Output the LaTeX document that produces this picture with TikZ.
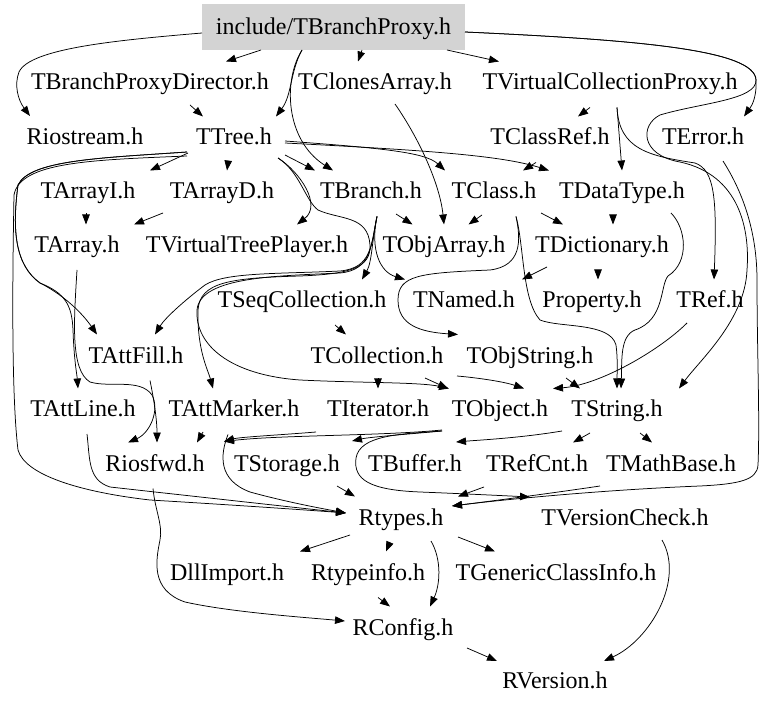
\documentclass[tikz,border=0pt]{standalone}
\usepackage{fontspec}
\setmainfont{Liberation Serif}
\usetikzlibrary{arrows.meta}
\definecolor{rootgray}{RGB}{211,211,211}
\begin{document}
\begin{tikzpicture}[x=1pt,y=-1pt,
  every node/.style={font=\fontsize{24}{28}\selectfont, inner sep=0pt, text height=16pt, text depth=5pt},
  hdr/.style={fill=rootgray, minimum width=263pt, minimum height=46pt, text depth=0pt},
  edg/.style={draw=black, line width=0.75pt, -{Triangle[length=10pt,width=7.5pt]}}]
\useasboundingbox (0,0) rectangle (779,708);
\node[hdr] (root) at (333.5,27) {include/TBranchProxy.h};
\node (bpd) at (150,84.5) {TBranchProxyDirector.h};
\node (clones) at (375,84.5) {TClonesArray.h};
\node (vcp) at (610,84.5) {TVirtualCollectionProxy.h};
\node (rio) at (85,139.5) {Riostream.h};
\node (tree) at (234,139.5) {TTree.h};
\node (cref) at (550,139.5) {TClassRef.h};
\node (err) at (703,139.5) {TError.h};
\node (arri) at (88,193.5) {TArrayI.h};
\node (arrd) at (222,193.5) {TArrayD.h};
\node (branch) at (371,193.5) {TBranch.h};
\node (class) at (494,193.5) {TClass.h};
\node (dtype) at (622,193.5) {TDataType.h};
\node (arr) at (77,247.5) {TArray.h};
\node (vtp) at (247,247.5) {TVirtualTreePlayer.h};
\node (objarr) at (444,247.5) {TObjArray.h};
\node (dict) at (602,247.5) {TDictionary.h};
\node (seq) at (302,302.5) {TSeqCollection.h};
\node (named) at (464,302.5) {TNamed.h};
\node (prop) at (592,302.5) {Property.h};
\node (tref) at (710,302.5) {TRef.h};
\node (attfill) at (136,357.5) {TAttFill.h};
\node (coll) at (377,357.5) {TCollection.h};
\node (objstr) at (530,357.5) {TObjString.h};
\node (attline) at (83,411.5) {TAttLine.h};
\node (attmarker) at (234,411.5) {TAttMarker.h};
\node (iter) at (378,411.5) {TIterator.h};
\node (object) at (500,411.5) {TObject.h};
\node (string) at (617,411.5) {TString.h};
\node (riosfwd) at (155,465.5) {Riosfwd.h};
\node (storage) at (287,465.5) {TStorage.h};
\node (buffer) at (415,465.5) {TBuffer.h};
\node (refcnt) at (537,465.5) {TRefCnt.h};
\node (mathbase) at (671,465.5) {TMathBase.h};
\node (rtypes) at (401,519.5) {Rtypes.h};
\node (vcheck) at (625,519.5) {TVersionCheck.h};
\node (dll) at (227,574.5) {DllImport.h};
\node (rtinfo) at (368,574.5) {Rtypeinfo.h};
\node (gci) at (556,574.5) {TGenericClassInfo.h};
\node (rconfig) at (403,629.5) {RConfig.h};
\node (rversion) at (555,683) {RVersion.h};
% root
\draw[edg] ([shift={(-131.5,6)}]root.center) .. controls (120,40) and (30,48) .. (19,72) .. controls (14,85) and (18,100) .. ([shift={(-55,-23.5)}]rio.center);
\draw[edg] ([shift={(-72.5,23)}]root.center) -- ([shift={(76,-23)}]bpd.center);
\draw[edg] ([shift={(-31.5,23)}]root.center) .. controls (290,72) and (292,95) .. ([shift={(42,-23)}]tree.center);
\draw[edg] ([shift={(-31.5,23)}]root.center) .. controls (283,80) and (285,140) .. ([shift={(-38,-23)}]branch.center);
\draw[edg] ([shift={(28.5,23)}]root.center) -- ([shift={(-17,-23)}]clones.center);
\draw[edg] ([shift={(113.5,23)}]root.center) -- ([shift={(-111,-23)}]vcp.center);
\draw[edg] ([shift={(131.5,5)}]root.center) .. controls (640,40) and (755,50) .. (756,80) .. controls (757,100) and (750,108) .. ([shift={(41,-23)}]err.center);
\draw[edg] ([shift={(131.5,5)}]root.center) .. controls (640,40) and (755,50) .. (756,80) .. controls (757,100) and (700,103) .. (660,115) .. controls (640,125) and (640,155) .. (680,162) .. controls (740,175) and (750,230) .. (747,270) .. controls (745,320) and (700,360) .. ([shift={(62,-23)}]string.center);
% row 1/2
\draw[edg] ([shift={(40,20.5)}]bpd.center) -- ([shift={(-31,-23)}]tree.center);
\draw[edg] ([shift={(-20,23)}]vcp.center) -- ([shift={(28,-23)}]cref.center);
\draw[edg] ([shift={(7,23)}]vcp.center) -- ([shift={(0,-23)}]dtype.center);
\draw[edg] ([shift={(7,23)}]vcp.center) .. controls (619,150) and (650,156) .. (695,163) .. controls (715,170) and (717,200) .. ([shift={(4,-23)}]tref.center);
\draw[edg] ([shift={(-14,23)}]cref.center) -- ([shift={(29,-23)}]class.center);
% TTree
\draw[edg] ([shift={(-46,13.5)}]tree.center) -- ([shift={(62,-23)}]arri.center);
\draw[edg] ([shift={(-6,23)}]tree.center) -- ([shift={(5,-23)}]arrd.center);
\draw[edg] ([shift={(51,15.5)}]tree.center) -- ([shift={(-56,-23)}]branch.center);
\draw[edg] ([shift={(44,18.5)}]tree.center) .. controls (300,172) and (322,205) .. ([shift={(50,-23)}]vtp.center);
\draw[edg] ([shift={(44,18.5)}]tree.center) .. controls (300,172) and (305,200) .. (318,210) .. controls (340,220) and (368,215) .. (370,245) .. controls (371,268) and (350,274) .. (300,276) .. controls (230,278) and (200,282) .. (198,310) .. controls (197,350) and (208,370) .. ([shift={(-21,-23)}]attmarker.center);
\draw[edg] ([shift={(51,1.5)}]tree.center) .. controls (380,148) and (425,152) .. ([shift={(-49,-23)}]class.center);
\draw[edg] ([shift={(51,3.5)}]tree.center) .. controls (420,150) and (500,155) .. ([shift={(-73,-23)}]dtype.center);
\draw[edg] ([shift={(-47,12.5)}]tree.center) .. controls (100,158) and (30,160) .. (18,185) .. controls (12,230) and (15,265) .. (40,283) .. controls (60,293) and (80,310) .. ([shift={(-39,-23)}]attfill.center);
\draw[edg] ([shift={(-47,12.5)}]tree.center) .. controls (100,158) and (30,160) .. (18,185) .. controls (12,230) and (15,265) .. (40,283) .. controls (65,293) and (72,305) .. (73,330) .. controls (74,360) and (77,375) .. ([shift={(-5,-23)}]attline.center);
\draw[edg] ([shift={(-47,16.5)}]tree.center) .. controls (90,160) and (20,162) .. (14,195) .. controls (12,300) and (12,400) .. (18,450) .. controls (25,475) and (80,492) .. (150,500) .. controls (250,506) and (320,511) .. ([shift={(-55,-6.5)}]rtypes.center);
% arrays
\draw[edg] ([shift={(-2,20)}]arri.center) -- ([shift={(9,-23)}]arr.center);
\draw[edg] ([shift={(-59,19.5)}]arrd.center) -- ([shift={(57,-23)}]arr.center);
\draw[edg] ([shift={(0,22.5)}]arr.center) .. controls (74,320) and (70,370) .. (90,382) .. controls (110,388) and (140,378) .. (152,395) .. controls (160,410) and (150,433) .. ([shift={(-27,-23)}]riosfwd.center);
% row 3/4
\draw[edg] ([shift={(25,20.5)}]branch.center) -- ([shift={(-31.5,-23)}]objarr.center);
\draw[edg] ([shift={(20,19.5)}]clones.center) .. controls (420,140) and (440,185) .. ([shift={(0,-23)}]objarr.center);
\draw[edg] ([shift={(-12,21.5)}]class.center) -- ([shift={(24.5,-23)}]objarr.center);
\draw[edg] ([shift={(47,19.5)}]class.center) -- ([shift={(-39,-23)}]dict.center);
\draw[edg] ([shift={(-9,23)}]dtype.center) -- ([shift={(11,-23)}]dict.center);
\draw[edg] ([shift={(6,23)}]branch.center) .. controls (372,240) and (372,262) .. ([shift={(60,-23)}]seq.center);
\draw[edg] ([shift={(6,23)}]branch.center) .. controls (370,250) and (380,272) .. ([shift={(-59,-23)}]named.center);
\draw[edg] ([shift={(6,23)}]branch.center) .. controls (371,245) and (372,268) .. (340,271) .. controls (280,274) and (225,272) .. (205,285) .. controls (185,300) and (165,318) .. ([shift={(19,-23)}]attfill.center);
\draw[edg] ([shift={(6,23)}]branch.center) .. controls (371,245) and (372,270) .. (340,273) .. controls (280,276) and (200,276) .. (197,310) .. controls (195,345) and (230,375) .. (300,380) .. controls (360,383) and (420,382) .. ([shift={(-51,-23)}]object.center);
\draw[edg] ([shift={(22,23)}]class.center) .. controls (521,240) and (522,266) .. (490,270) .. controls (420,273) and (398,275) .. (398,300) .. controls (398,325) and (420,332) .. ([shift={(-72,-23)}]objstr.center);
\draw[edg] ([shift={(22,23)}]class.center) .. controls (524,245) and (522,300) .. (540,320) .. controls (560,328) and (610,322) .. (616,345) .. controls (618,360) and (617,375) .. ([shift={(0,-23)}]string.center);
\draw[edg] ([shift={(49,19.5)}]dtype.center) .. controls (686,228) and (690,262) .. (668,276) .. controls (660,285) and (665,320) .. (635,330) .. controls (620,336) and (622,360) .. ([shift={(4,-23)}]string.center);
\draw[edg] ([shift={(-55,19.5)}]dict.center) -- ([shift={(58,-23)}]named.center);
\draw[edg] ([shift={(-4,23)}]dict.center) -- ([shift={(6,-23)}]prop.center);
% row 5/6/7
\draw[edg] ([shift={(33,22.5)}]seq.center) -- ([shift={(-31,-23)}]coll.center);
\draw[edg] ([shift={(1,21)}]coll.center) -- ([shift={(0,-23)}]iter.center);
\draw[edg] ([shift={(48,20.5)}]coll.center) -- ([shift={(-52,-23)}]object.center);
\draw[edg] ([shift={(-73,18.5)}]objstr.center) .. controls (480,378) and (505,382) .. ([shift={(24,-23)}]object.center);
\draw[edg] ([shift={(36,20.5)}]objstr.center) -- ([shift={(-37,-23)}]string.center);
\draw[edg] ([shift={(-23,20.5)}]tref.center) .. controls (660,350) and (600,385) .. ([shift={(53,-23)}]object.center);
\draw[edg] ([shift={(14,23)}]attfill.center) .. controls (154,400) and (157,420) .. ([shift={(2,-23)}]riosfwd.center);
\draw[edg] ([shift={(4,22.5)}]attline.center) .. controls (90,460) and (88,480) .. (110,487) .. controls (200,497) and (300,508) .. ([shift={(-55,-6.5)}]rtypes.center);
\draw[edg] ([shift={(-6,23)}]attmarker.center) .. controls (220,455) and (218,480) .. (250,492) .. controls (290,503) and (330,510) .. ([shift={(-55,-6.5)}]rtypes.center);
\draw[edg] ([shift={(-31,20.5)}]attmarker.center) -- ([shift={(42,-23)}]riosfwd.center);
\draw[edg] ([shift={(-58,18.5)}]object.center) .. controls (380,436) and (280,435) .. ([shift={(69,-24)}]riosfwd.center);
\draw[edg] ([shift={(-62,20.5)}]iter.center) .. controls (280,435) and (240,437) .. ([shift={(69,-24)}]riosfwd.center);
\draw[edg] ([shift={(-58,19.5)}]object.center) .. controls (410,434) and (370,437) .. ([shift={(65,-24.5)}]storage.center);
\draw[edg] ([shift={(-58,19.5)}]object.center) .. controls (400,434) and (360,435) .. (356,458) .. controls (353,480) and (370,490) .. (420,492) .. controls (470,494) and (510,496) .. ([shift={(-95,-22.5)}]vcheck.center);
\draw[edg] ([shift={(-55,19.5)}]string.center) .. controls (520,438) and (480,440) .. ([shift={(41,-23.5)}]buffer.center);
\draw[edg] ([shift={(-27,21.5)}]string.center) -- ([shift={(36,-23)}]refcnt.center);
\draw[edg] ([shift={(23,21.5)}]string.center) -- ([shift={(-19,-23)}]mathbase.center);
% lower
\draw[edg] ([shift={(-2,23)}]riosfwd.center) .. controls (155,510) and (163,525) .. (160,540) .. controls (156,560) and (150,590) .. (185,602) .. controls (230,612) and (300,617) .. ([shift={(-58,-8.5)}]rconfig.center);
\draw[edg] ([shift={(50,20.5)}]storage.center) -- ([shift={(-46,-23)}]rtypes.center);
\draw[edg] ([shift={(-53,21.5)}]refcnt.center) -- ([shift={(57,-23)}]rtypes.center);
\draw[edg] ([shift={(-71,20.5)}]mathbase.center) .. controls (560,492) and (500,500) .. ([shift={(51,-13.5)}]rtypes.center);
\draw[edg] ([shift={(20,21.5)}]err.center) .. controls (735,180) and (757,220) .. (757,280) .. controls (757,350) and (760,420) .. (758,465) .. controls (757,480) and (740,484) .. (700,486) .. controls (600,490) and (500,500) .. ([shift={(51,-13.5)}]rtypes.center);
\draw[edg] ([shift={(-51,15.5)}]rtypes.center) -- ([shift={(73,-23)}]dll.center);
\draw[edg] ([shift={(-11,22.5)}]rtypes.center) -- ([shift={(18,-23)}]rtinfo.center);
\draw[edg] ([shift={(30,21.5)}]rtypes.center) .. controls (442,560) and (440,585) .. ([shift={(27,-23)}]rconfig.center);
\draw[edg] ([shift={(57,17.5)}]rtypes.center) -- ([shift={(-61,-23)}]gci.center);
\draw[edg] ([shift={(10,23)}]rtinfo.center) -- ([shift={(-13,-23)}]rconfig.center);
\draw[edg] ([shift={(64,18.5)}]rconfig.center) -- ([shift={(-58,-22)}]rversion.center);
\draw[edg] ([shift={(37,20.5)}]vcheck.center) .. controls (685,580) and (650,640) .. ([shift={(49,-22)}]rversion.center);
\end{tikzpicture}
\end{document}
